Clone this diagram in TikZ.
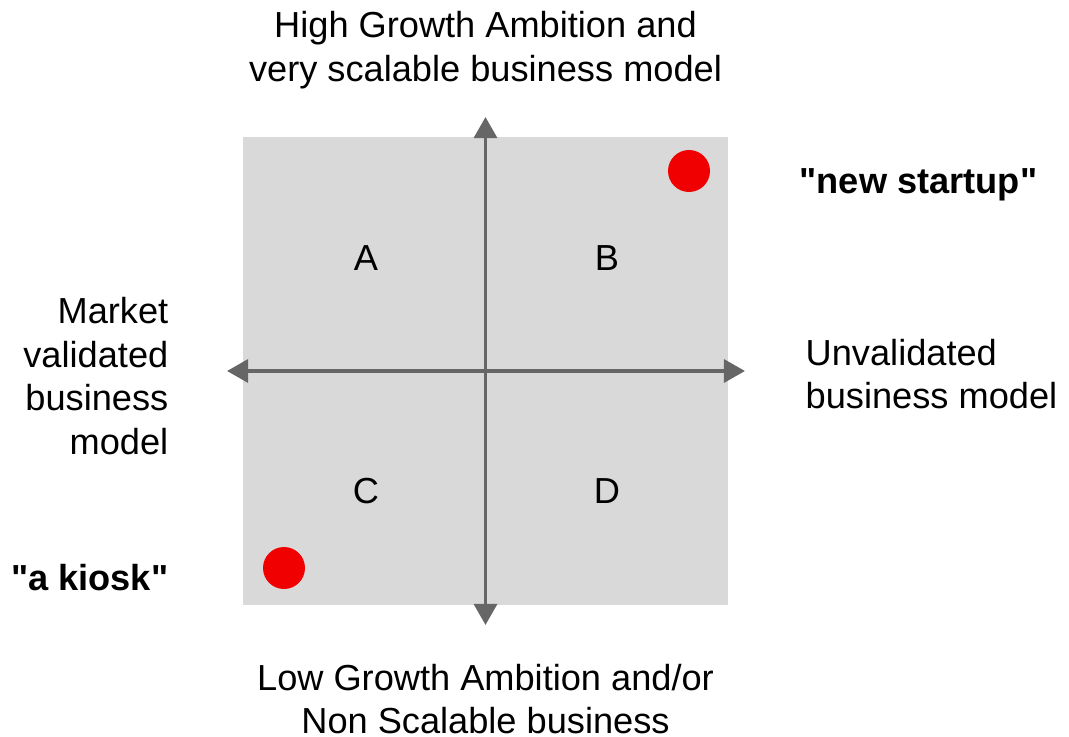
\documentclass[tikz,border=0pt]{standalone}
\usepackage{fontspec}
\setmainfont{Liberation Sans}
\usetikzlibrary{arrows.meta}
\definecolor{quadgray}{HTML}{D9D9D9}
\definecolor{axisgray}{HTML}{666666}
\definecolor{dotred}{HTML}{F00000}
\tikzset{
    axis/.style={line width=1.1pt, axisgray, {Triangle[length=6pt,width=6.5pt]}-{Triangle[length=6pt,width=6.5pt]}},
    lbl/.style={font=\fontsize{10.3}{12.4}\selectfont, inner sep=0pt},
    blob/.style={circle, fill=dotred, minimum size=0.42cm, inner sep=0pt}
}
\begin{document}
\begin{tikzpicture}
        \useasboundingbox (0,0) rectangle (10.69,-7.37);
        \fill[quadgray] (2.43,-1.37) rectangle (7.28,-6.05);
        \coordinate (north) at (4.855,-1.17);
        \coordinate (south) at (4.855,-6.25);
        \coordinate (west) at (2.27,-3.71);
        \coordinate (east) at (7.45,-3.71);
        \draw[axis] (west) -- (east);
        \draw[axis] (north) -- (south);
        \foreach \q/\x/\y in {A/3.66/-2.58, B/6.07/-2.58, C/3.66/-4.91, D/6.07/-4.91}
            \node[lbl] (q\q) at (\x,\y) {\q};
        \node[blob] (newdot) at (6.89,-1.71) {};
        \node[blob] (kioskdot) at (2.84,-5.68) {};
        \node[lbl, align=center] (top) at (4.855,-0.50) {High Growth Ambition and\\very scalable business model};
        \node[lbl, align=center] (bottom) at (4.855,-6.99) {Low Growth Ambition and/or\\Non Scalable business};
        \node[lbl, align=right, anchor=east] (left) at (1.69,-3.76) {Market\\validated\\business\\model};
        \node[lbl, align=left, anchor=west] (right) at (8.05,-3.74) {Unvalidated\\business model};
        \node[lbl, anchor=west, font=\fontsize{10.3}{12.4}\selectfont\bfseries] (startup) at (7.99,-1.85) {\textquotedbl new startup\textquotedbl};
        \node[lbl, anchor=east, font=\fontsize{10.3}{12.4}\selectfont\bfseries] (kiosk) at (1.69,-5.78) {\textquotedbl a kiosk\textquotedbl};
    \end{tikzpicture}
\end{document}
